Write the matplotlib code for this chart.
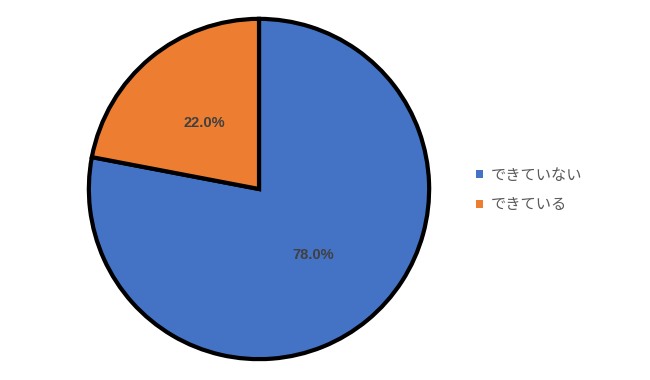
import matplotlib
matplotlib.use("Agg")
import matplotlib.pyplot as plt
from matplotlib.patches import Patch

plt.rcParams['font.family'] = ['Noto Sans CJK JP', 'DejaVu Sans']

categories = ["できていない", "できている"]
values = [78.0, 22.0]
colors = ["#4472C4", "#ED7D31"]

fig = plt.figure(figsize=(6.5, 3.8), dpi=100)
W, H = 650, 380
cx, cy, r = 259, 189, 171
ax = fig.add_axes([(cx - r) / W, (H - cy - r) / H, 2 * r / W, 2 * r / H])
wedges, texts, autotexts = ax.pie(
    values, colors=colors, startangle=90, counterclock=False,
    autopct='%.1f%%', pctdistance=0.5,
    wedgeprops=dict(edgecolor='black', linewidth=3),
    textprops=dict(color='#404040', fontsize=10.5, fontweight='bold', family=['Liberation Sans']))
ax.set_xlim(-1.005, 1.005)
ax.set_ylim(-1.005, 1.005)
ax.set_aspect('equal')

handles = [Patch(facecolor=c, edgecolor='none') for c in colors]
leg = fig.legend(handles, categories, loc='center left', bbox_to_anchor=(462 / W, 1 - 190 / H),
                 frameon=False, fontsize=11, handlelength=0.5, handleheight=0.5,
                 handletextpad=0.5, labelspacing=0.85, labelcolor='#595959')
fig.savefig("out.png", dpi=100)
